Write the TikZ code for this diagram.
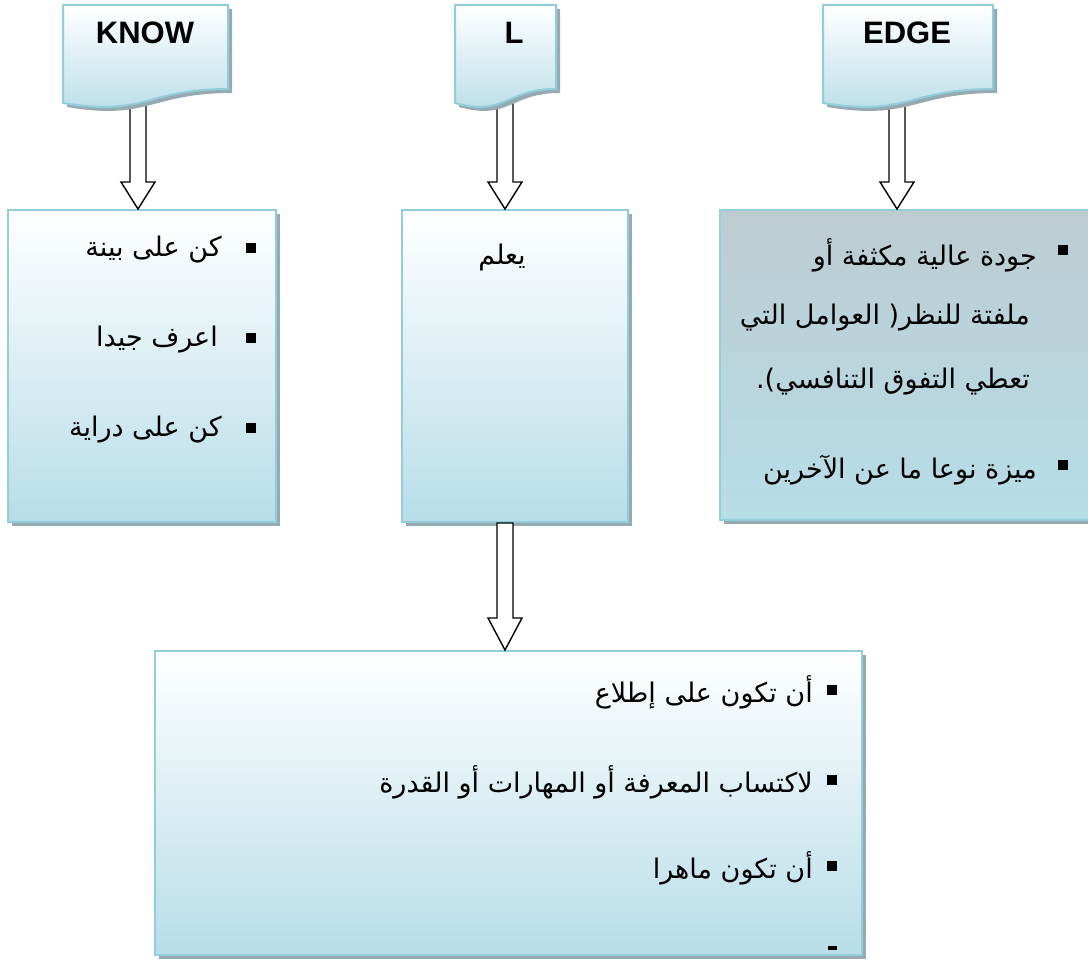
\documentclass[tikz,border=0pt]{standalone}
\usepackage{fontspec}
\setmainfont{Liberation Sans}
\newfontfamily\arabicfont[Script=Arabic]{DejaVu Sans}
\TeXXeTstate=1
\usetikzlibrary{calc,shadows}

\definecolor{rim}{RGB}{146,205,220}
\definecolor{pale}{RGB}{183,221,232}
\definecolor{shadowtone}{RGB}{150,170,178}
\definecolor{slate}{RGB}{188,204,209}

\tikzset{
  panel/.style={draw=rim, line width=2pt, top color=white, bottom color=pale,
    inner sep=0pt, general shadow={fill=shadowtone, shadow xshift=4pt, shadow yshift=-4pt}},
  docfill/.style={draw=rim, line width=2pt, top color=white, bottom color=pale},
  docshadow/.style={fill=shadowtone, xshift=4pt, yshift=-4pt},
  heading/.style={font=\bfseries\fontsize{31}{36}\selectfont, inner sep=0pt},
  atext/.style={font=\arabicfont\fontsize{27}{32}\selectfont, inner sep=0pt, anchor=east},
  bul/.style={fill=black, minimum size=10pt, inner sep=0pt},
  arrowline/.style={draw=black, fill=white, line width=1.4pt, line join=miter},
}

% wavy-bottom "document" outline between two x positions
\newcommand{\docpath}[2]{(#1,5) -- (#2,5) -- (#2,89)
  .. controls ({(#1+#2)/2},89) and ({(#1+#2)/2},117) .. (#1,103) -- cycle}

% hollow block arrow from #1 down to the tip #2, head length #3
\newcommand{\blockarrow}[3]{\draw[arrowline]
  ($(#1)+(-8,0)$) -- ($(#2)+(-8,-#3)$) -- ($(#2)+(-17,-#3)$) -- (#2)
  -- ($(#2)+(17,-#3)$) -- ($(#2)+(8,-#3)$) -- ($(#1)+(8,0)$) -- cycle;}

\begin{document}
\begin{tikzpicture}[x=1pt, y=-1pt]
\clip (0,0) rectangle (1088,963);
\fill[white] (0,0) rectangle (1088,963);

% content panels
\node[panel, minimum width=268pt, minimum height=312pt] (b1) at (142,366) {};
\node[panel, minimum width=226pt, minimum height=312pt] (b2) at (515,366) {};
\node[panel, top color=slate, minimum width=380pt, minimum height=310pt] (b3) at (910,365) {};
\node[panel, minimum width=707pt, minimum height=304pt] (b4) at (508.5,803) {};

% arrows from the headings and from the middle panel
\coordinate (ka) at (138,100);
\coordinate (la) at (505,100);
\coordinate (ea) at (897,100);
\coordinate (ms) at (la |- b2.south);
\coordinate (kt) at (ka |- b1.north);
\coordinate (lt) at (la |- b2.north);
\coordinate (et) at (ea |- b3.north);
\coordinate (mt) at (la |- b4.north);
\blockarrow{ka}{kt}{27}
\blockarrow{la}{lt}{27}
\blockarrow{ea}{et}{27}
\blockarrow{ms}{mt}{32}

% heading documents
\fill[docshadow] \docpath{63}{228};
\draw[docfill] \docpath{63}{228};
\fill[docshadow] \docpath{455}{556};
\draw[docfill] \docpath{455}{556};
\fill[docshadow] \docpath{823}{993};
\draw[docfill] \docpath{823}{993};
\node[heading] (know) at (145,33) {KNOW};
\node[heading] (l) at (514,33) {L};
\node[heading] (edge) at (907,33) {EDGE};

% left panel
\node[bul] (p11) at (251,248) {};
\node[atext] (t11) at (222,250) {\beginR كن على بينة\endR};
\node[bul] (p12) at (251,338) {};
\node[atext] (t12) at (218,340) {\beginR اعرف جيدا\endR};
\node[bul] (p13) at (251,428) {};
\node[atext] (t13) at (222,430) {\beginR كن على دراية\endR};

% middle panel
\node[atext, anchor=center] (t21) at (502,257) {\beginR يعلم\endR};

% right panel
\node[bul] (p31) at (1063,250) {};
\node[atext] (t31) at (1037,255) {\beginR جودة عالية مكثفة أو\endR};
\node[atext] (t32) at (1030,318) {\beginR ملفتة للنظر( العوامل التي\endR};
\node[atext] (t33) at (1030,382) {\beginR تعطي التفوق التنافسي).\endR};
\node[bul] (p34) at (1063,465) {};
\node[atext] (t34) at (1037,470) {\beginR ميزة نوعا ما عن الآخرين\endR};

% bottom panel
\node[bul] (p41) at (832,690) {};
\node[atext] (t41) at (813,692) {\beginR أن تكون على إطلاع\endR};
\node[bul] (p42) at (832,780) {};
\node[atext] (t42) at (813,782) {\beginR لاكتساب المعرفة أو المهارات أو القدرة\endR};
\node[bul] (p43) at (832,866) {};
\node[atext] (t43) at (813,868) {\beginR أن تكون ماهرا\endR};
\node[fill=black, minimum width=9pt, minimum height=4pt, inner sep=0pt] (p44) at (832,948) {};
\end{tikzpicture}
\end{document}
